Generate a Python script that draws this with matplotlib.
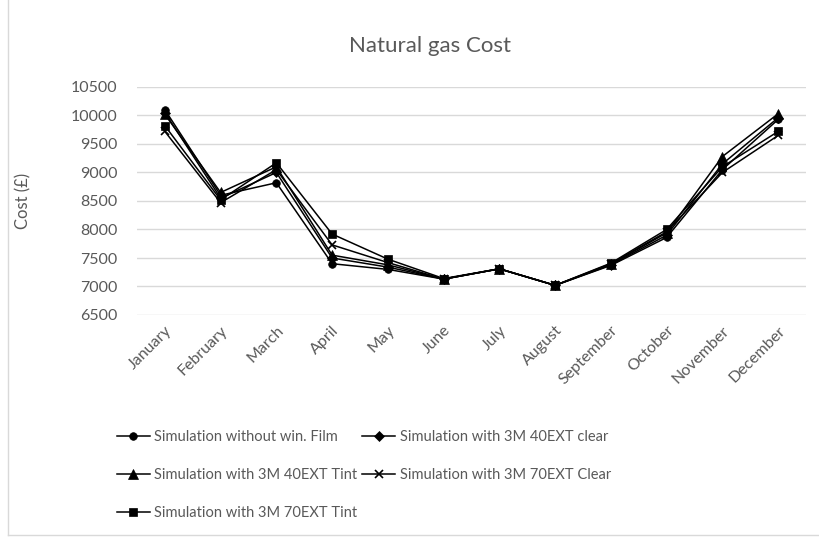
import matplotlib
matplotlib.use("Agg")
import matplotlib.pyplot as plt
from matplotlib.lines import Line2D

plt.rcParams['font.family'] = ['Lato', 'DejaVu Sans']

months = ["January", "February", "March", "April", "May", "June", "July",
          "August", "September", "October", "November", "December"]

no_film = [10100, 8600, 8820, 7400, 7300, 7130, 7310, 7020, 7370, 7860, 9050, 9930]
clear_40 = [10050, 8550, 9000, 7500, 7340, 7130, 7310, 7020, 7380, 7900, 9150, 9960]
tint_40 = [10020, 8650, 9100, 7550, 7380, 7130, 7310, 7020, 7390, 7940, 9280, 10030]
clear_70 = [9720, 8470, 9050, 7730, 7420, 7130, 7310, 7020, 7400, 7960, 9000, 9650]
tint_70 = [9820, 8520, 9170, 7920, 7480, 7140, 7310, 7020, 7410, 8000, 9100, 9720]

series = [
    ("Simulation without win. Film", no_film, "o"),
    ("Simulation with 3M 40EXT clear", clear_40, "D"),
    ("Simulation with 3M 40EXT Tint", tint_40, "^"),
    ("Simulation with 3M 70EXT Clear", clear_70, "x"),
    ("Simulation with 3M 70EXT Tint", tint_70, "s"),
]

txt = "#595959"

fig = plt.figure(figsize=(8.2, 5.39), dpi=100)
ax = fig.add_axes([137 / 820, 1 - 315 / 539, (806 - 137) / 820, 228 / 539])

x = range(len(months))
handles = []
sizes = {"o": 5.5, "D": 5, "^": 6.5, "x": 6, "s": 6}
for label, vals, mk in series:
    h, = ax.plot(x, vals, color="black", lw=1.1, marker=mk, ms=sizes[mk],
                 markeredgewidth=1.2 if mk == "x" else 0.5, label=label)
    handles.append(h)

ax.set_xlim(-0.5, 11.5)
ax.set_ylim(6500, 10500)
ax.set_yticks(range(6500, 10501, 500))
ax.set_xticks(list(x))
ax.set_xticklabels(months, rotation=45, ha="right", rotation_mode="anchor",
                   fontsize=11.5, color=txt)
ax.tick_params(axis="y", labelsize=11.5, labelcolor=txt, length=0, pad=14)
ax.tick_params(axis="x", length=0, pad=6)
ax.grid(axis="y", color="#d9d9d9", lw=1)
ax.set_axisbelow(True)
for s in ax.spines.values():
    s.set_visible(False)

ax.set_ylabel("Cost (£)", fontsize=12, color=txt, labelpad=28)
fig.text(0.525, 0.915, "Natural gas Cost", ha="center", va="center",
         fontsize=16, color=txt)

order = [0, 2, 4, 1, 3]
fig.legend([handles[i] for i in order], [series[i][0] for i in order],
           ncol=2, frameon=False, loc="upper left",
           bbox_to_anchor=(0.135, 0.213), fontsize=10.5, labelcolor=txt,
           handlelength=2.3, handletextpad=0.3, columnspacing=0.3,
           labelspacing=1.65, borderaxespad=0)

fig.add_artist(Line2D([0.01, 0.01], [0.007, 1.0], color="#d9d9d9", lw=1,
                      transform=fig.transFigure))
fig.add_artist(Line2D([0.01, 1.0], [0.007, 0.007], color="#d9d9d9", lw=1,
                      transform=fig.transFigure))

fig.savefig("out.png", dpi=100)
